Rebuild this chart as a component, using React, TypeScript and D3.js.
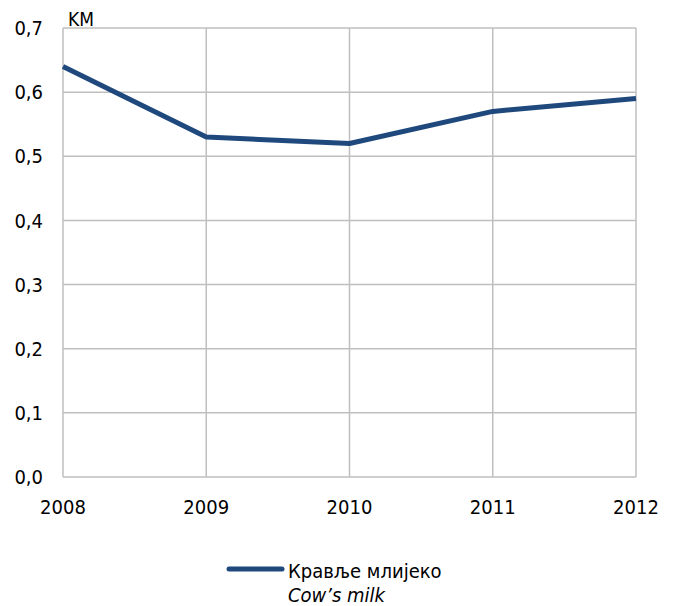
import React from 'react';
import * as d3 from 'd3';

const years = ['2008', '2009', '2010', '2011', '2012'];
const prices = [0.64, 0.53, 0.52, 0.57, 0.59];
const yTicks = [0, 0.1, 0.2, 0.3, 0.4, 0.5, 0.6, 0.7];
const unitLabel = 'KM';
const seriesName = 'Кравље млијеко';
const seriesNameEn = 'Cow’s milk';

const W = 673;
const H = 606;
const margin = { top: 28, right: 37, bottom: 129, left: 63 };
const font = '"DejaVu Sans Condensed", "DejaVu Sans", sans-serif';
const lineColor = '#1f497d';
const gridColor = '#bfbfbf';

export default function App() {
  const x = d3
    .scalePoint<string>()
    .domain(years)
    .range([margin.left, W - margin.right]);
  const y = d3
    .scaleLinear()
    .domain([0, 0.7])
    .range([H - margin.bottom, margin.top]);

  const line = d3
    .line<number>()
    .x((_, i) => x(years[i]) as number)
    .y((d) => y(d));

  const fmt = (v: number) => v.toFixed(1).replace('.', ',');

  return (
    <svg
      width={W}
      height={H}
      style={{ position: 'absolute', left: 0, top: 0, background: '#fff' }}
      fontFamily={font}
    >
      {yTicks.map((t) => (
        <line
          key={'gy' + t}
          x1={margin.left}
          x2={W - margin.right}
          y1={y(t)}
          y2={y(t)}
          stroke={gridColor}
          strokeWidth={1.5}
        />
      ))}
      {years.map((yr) => (
        <line
          key={'gx' + yr}
          x1={x(yr)}
          x2={x(yr)}
          y1={margin.top}
          y2={H - margin.bottom}
          stroke={gridColor}
          strokeWidth={1.5}
        />
      ))}
      {yTicks.map((t) => (
        <text
          key={'ty' + t}
          x={43}
          y={y(t)}
          dy="0.36em"
          textAnchor="end"
          fontSize={20}
          fill="#000"
        >
          {fmt(t)}
        </text>
      ))}
      {years.map((yr) => (
        <text
          key={'tx' + yr}
          x={x(yr)}
          y={514}
          textAnchor="middle"
          fontSize={20}
          fill="#000"
        >
          {yr}
        </text>
      ))}
      <text x={68} y={26} fontSize={19} fill="#000">
        {unitLabel}
      </text>
      <path
        d={line(prices) || ''}
        fill="none"
        stroke={lineColor}
        strokeWidth={5}
        strokeLinejoin="round"
      />
      <line
        x1={229}
        x2={282}
        y1={569}
        y2={569}
        stroke={lineColor}
        strokeWidth={5}
        strokeLinecap="round"
      />
      <text x={288} y={578} fontSize={20} fill="#000">
        {seriesName}
      </text>
      <text x={288} y={602} fontSize={20} fontStyle="italic" fill="#000">
        {seriesNameEn}
      </text>
    </svg>
  );
}
